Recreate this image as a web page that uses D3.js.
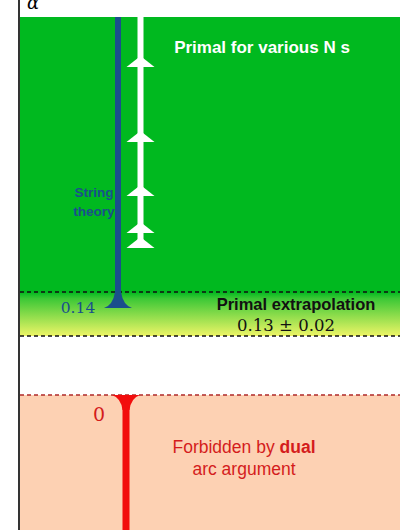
<!DOCTYPE html><html><head><meta charset="utf-8">
<script src="https://cdn.jsdelivr.net/npm/d3@7"></script>
<style>body{margin:0;background:#fff}</style></head><body>
<script>
// data (alpha values)
const primalTop = 0.5;
const primalExtrap = {center:0.13, err:0.02};
const stringTheory = 0.14;
const dualBound = 0;
const primalArrows = [0.47, 0.40, 0.35, 0.317, 0.303];
const primalLineEnd = 0.303;
const bottomVal = -0.2;

const W=417,H=530;
const svg=d3.select("body").append("svg").attr("width",W).attr("height",H);
const y=d3.scaleLinear().domain([bottomVal,0,0.11,0.15,0.5]).range([530,395,336,292,17]);
const ya=d3.scaleLinear().domain([0.15,0.303,0.317,0.35,0.40,0.47,0.5]).range([292,248,233,196,142,67,17]);
const x0=20,x1=400;
const defs=svg.append("defs");
const g=defs.append("linearGradient").attr("id","gr").attr("x1",0).attr("x2",0).attr("y1",0).attr("y2",1);
g.append("stop").attr("offset",0).attr("stop-color","#00b91f");
g.append("stop").attr("offset",0.15).attr("stop-color","#3cc836");
g.append("stop").attr("offset",1).attr("stop-color","#eef566");

svg.append("rect").attr("x",x0).attr("y",y(0.5)).attr("width",x1-x0).attr("height",y(0.15)-y(0.5)).attr("fill","#00b91f");
svg.append("rect").attr("x",x0).attr("y",y(0.15)).attr("width",x1-x0).attr("height",y(0.11)-y(0.15)).attr("fill","url(#gr)");
svg.append("rect").attr("x",x0).attr("y",y(0)).attr("width",x1-x0).attr("height",y(bottomVal)-y(0)).attr("fill","#fdd1b3");
[[0.15,"#111"],[0.11,"#111"],[0,"#b02a2a"]].forEach(([v,c])=>{
 svg.append("line").attr("x1",x0).attr("x2",x1).attr("y1",y(v)).attr("y2",y(v)).attr("stroke",c).attr("stroke-width",1.6).attr("stroke-dasharray","4,3");
});
svg.append("line").attr("x1",19).attr("x2",19).attr("y1",0).attr("y2",H).attr("stroke","#000").attr("stroke-width",1.6);
svg.append("text").attr("x",27).attr("y",9).attr("font-family","DejaVu Serif").attr("font-style","italic").attr("font-size",18).text("α");

// string theory
const bx=118, by=y(stringTheory);
svg.append("line").attr("x1",bx).attr("x2",bx).attr("y1",y(0.5)).attr("y2",by).attr("stroke","#1a4f8c").attr("stroke-width",6);
svg.append("path").attr("d",`M${bx-3},${by-11} Q${bx-5},${by+2} ${bx-14},${by+5} L${bx+14},${by+5} Q${bx+5},${by+2} ${bx+3},${by-11}Z`).attr("fill","#1a4f8c");
svg.append("text").attr("y",197).attr("text-anchor","middle").attr("font-family","Liberation Sans").attr("font-weight","bold").attr("font-size",13.5).attr("fill","#1a4f8c")
 .selectAll("tspan").data(["String","theory"]).join("tspan").attr("x",bx-24).attr("dy",(d,i)=>i?19:0).text(d=>d);
svg.append("text").attr("x",78).attr("y",313).attr("text-anchor","middle").attr("font-family","DejaVu Serif").attr("font-size",15.5).attr("fill","#1a4f8c").text("0.14");

// primal
const wx=140.5;
svg.append("line").attr("x1",wx).attr("x2",wx).attr("y1",y(0.5)).attr("y2",ya(primalLineEnd)).attr("stroke","#fff").attr("stroke-width",6);
primalArrows.forEach(v=>{const b=ya(v);
 svg.append("path").attr("d",`M${wx},${b-11} L${wx-14},${b} L${wx+14},${b}Z`).attr("fill","#fff");});
svg.append("text").attr("x",262).attr("y",53).attr("text-anchor","middle").attr("font-family","Liberation Sans").attr("font-weight","bold").attr("font-size",17).attr("fill","#fff").text("Primal for various N s");
svg.append("text").attr("x",296).attr("y",310).attr("text-anchor","middle").attr("font-family","Liberation Sans").attr("font-weight","bold").attr("font-size",16.5).attr("fill","#111").text("Primal extrapolation");
svg.append("text").attr("x",286).attr("y",331).attr("text-anchor","middle").attr("font-family","DejaVu Serif").attr("font-size",16.5).attr("fill","#111").text(`${primalExtrap.center} ± ${primalExtrap.err}`);

// dual
const rx=126, ry=y(dualBound);
svg.append("line").attr("x1",rx).attr("x2",rx).attr("y1",ry).attr("y2",H).attr("stroke","#f20d0d").attr("stroke-width",7);
svg.append("path").attr("d",`M${rx-3.5},${ry+15} Q${rx-5},${ry+3} ${rx-14},${ry} L${rx+14},${ry} Q${rx+5},${ry+3} ${rx+3.5},${ry+15}Z`).attr("fill","#f20d0d");
svg.append("text").attr("x",99).attr("y",421).attr("text-anchor","middle").attr("font-family","DejaVu Serif").attr("font-size",19).attr("fill","#d41c1c").text("0");
const ft=svg.append("text").attr("x",244).attr("y",453).attr("text-anchor","middle").attr("font-family","Liberation Sans").attr("font-size",17.5).attr("fill","#d41c1c");
ft.append("tspan").text("Forbidden by ");ft.append("tspan").attr("font-weight","bold").text("dual");
svg.append("text").attr("x",244).attr("y",475).attr("text-anchor","middle").attr("font-family","Liberation Sans").attr("font-size",17.5).attr("fill","#d41c1c").text("arc argument");
</script></body></html>
